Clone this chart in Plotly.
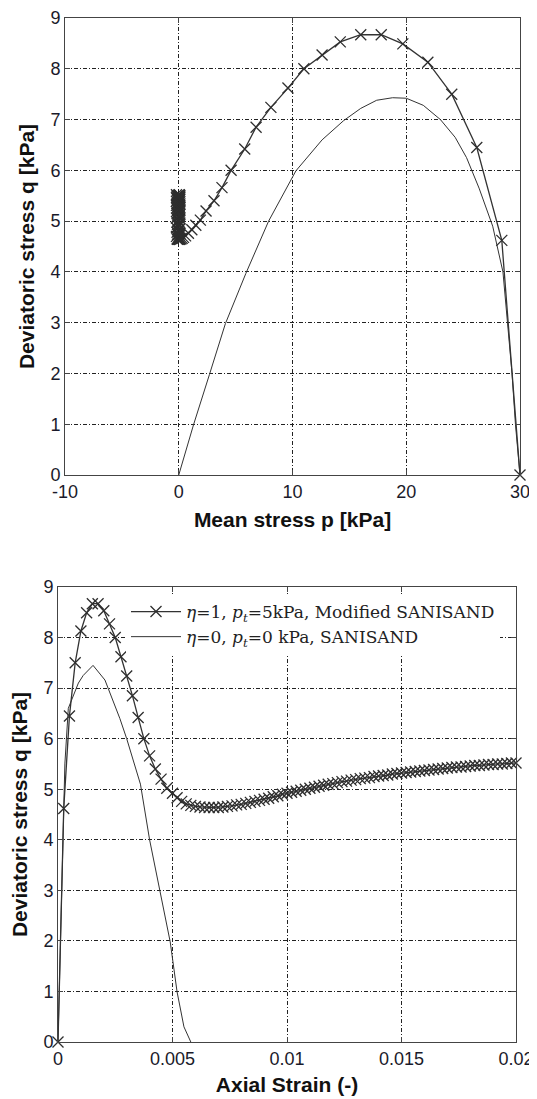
import plotly.graph_objects as go

# Modified SANISAND (eta=1, pt=5 kPa): same test drawn in p-q and strain-q
mod_strain = [0.0, 0.00025, 0.0005, 0.00075, 0.001, 0.00125, 0.0015, 0.00175, 0.002,
              0.00225, 0.0025, 0.00275, 0.003, 0.00325, 0.0035, 0.00375, 0.004, 0.00425,
              0.0045, 0.00475, 0.005,
              0.0052, 0.0054, 0.0056, 0.0058, 0.006, 0.0062, 0.0064, 0.0066, 0.0068, 0.007,
              0.0072, 0.0074, 0.0076, 0.0078, 0.008, 0.0082, 0.0084, 0.0086, 0.0088, 0.009,
              0.0092, 0.0094, 0.0096, 0.0098, 0.01, 0.0102, 0.0104, 0.0106, 0.0108, 0.011,
              0.0112, 0.0114, 0.0116, 0.0118, 0.012, 0.0122, 0.0124, 0.0126, 0.0128, 0.013,
              0.0132, 0.0134, 0.0136, 0.0138, 0.014, 0.0142, 0.0144, 0.0146, 0.0148, 0.015,
              0.0152, 0.0154, 0.0156, 0.0158, 0.016, 0.0162, 0.0164, 0.0166, 0.0168, 0.017,
              0.0172, 0.0174, 0.0176, 0.0178, 0.018, 0.0182, 0.0184, 0.0186, 0.0188, 0.019,
              0.0192, 0.0194, 0.0196, 0.0198, 0.02]
mod_q = [0.0, 4.62, 6.45, 7.5, 8.13, 8.49, 8.67, 8.67, 8.53,
         8.27, 8.0, 7.62, 7.24, 6.85, 6.42, 6.0, 5.66, 5.4,
         5.2, 5.02, 4.92,
         4.83, 4.76, 4.71, 4.68, 4.66, 4.65, 4.64, 4.64, 4.64, 4.64,
         4.65, 4.66, 4.67, 4.69, 4.7, 4.72, 4.74, 4.76, 4.78, 4.8,
         4.82, 4.85, 4.87, 4.9, 4.92, 4.94, 4.96, 4.98, 5.0, 5.02,
         5.04, 5.06, 5.08, 5.1, 5.11, 5.13, 5.15, 5.16, 5.18, 5.19,
         5.21, 5.22, 5.23, 5.25, 5.26, 5.27, 5.28, 5.3, 5.31, 5.32,
         5.33, 5.34, 5.35, 5.36, 5.37, 5.38, 5.39, 5.4, 5.41, 5.42,
         5.43, 5.44, 5.44, 5.45, 5.46, 5.47, 5.47, 5.48, 5.49, 5.49,
         5.5, 5.5, 5.51, 5.52, 5.52]
mod_p = [30.0, 28.4, 26.2, 24.0, 21.9, 19.7, 17.8, 16.0, 14.2,
         12.6, 11.0, 9.6, 8.1, 6.8, 5.8, 4.6, 3.8, 3.1,
         2.4, 1.9, 1.5,
         1.15, 0.85, 0.6, 0.42, 0.3, 0.2, 0.1, 0.0, -0.1, 0.05,
         -0.15, 0.1, -0.05, 0.0, -0.2, 0.05, -0.1, 0.1, -0.15, 0.0,
         -0.05, 0.1, -0.2, 0.0, 0.05, -0.1, 0.1, -0.15, 0.0, -0.05,
         0.1, -0.2, 0.05, -0.1, 0.0, 0.1, -0.15, -0.05, 0.05, -0.2,
         0.1, 0.0, -0.1, 0.05, -0.15, 0.1, -0.05, 0.0, -0.2, 0.05,
         -0.1, 0.1, -0.15, 0.0, -0.05, 0.1, -0.2, 0.05, -0.1, 0.0,
         0.1, -0.15, -0.05, 0.05, -0.2, 0.1, 0.0, -0.1, 0.05, -0.15,
         0.1, -0.05, 0.0, -0.2, 0.05]

# SANISAND (eta=0, pt=0)
san_p = [30.0, 29.6, 29.3, 28.9, 28.5, 27.6, 26.4, 25.3, 24.3, 23.0, 21.5, 20.0,
         18.8, 17.4, 16.0, 14.5, 12.6, 10.3, 7.9, 5.9, 4.1, 2.7, 1.3, 0.0]
san_q_pq = [0.0, 1.0, 2.0, 3.0, 4.0, 4.9, 5.65, 6.25, 6.65, 7.0, 7.28, 7.42,
            7.43, 7.38, 7.22, 6.98, 6.6, 5.99, 5.0, 3.97, 2.98, 1.98, 0.99, 0.0]
san_strain = [0.0, 0.0001, 0.0002, 0.0003, 0.00045, 0.0007, 0.00089, 0.0011, 0.00153,
              0.00205, 0.00227, 0.0027, 0.003, 0.0036, 0.004, 0.00445, 0.0049, 0.0052,
              0.0055, 0.0058]
san_q = [0.0, 2.0, 4.0, 5.5, 6.6, 6.9, 7.1, 7.25, 7.45,
         7.16, 6.9, 6.4, 6.0, 5.1, 4.0, 3.0, 1.98, 0.99,
         0.3, 0.0]

p_ticks = [-10, 0, 10, 20, 30]
p_labels = ["-10", "0", "10", "20", "30"]
q_ticks = [0, 1, 2, 3, 4, 5, 6, 7, 8, 9]
strain_ticks = [0, 0.005, 0.01, 0.015, 0.02]
strain_labels = ["0", "0.005", "0.01", "0.015", "0.02"]

# page body has an 8px margin, so the figure is 8px smaller and all pixel
# positions below are taken relative to (8, 8)
OFF = 8
W, H = 537 - OFF, 1099 - OFF


def xd(a, b):
    return [(a - OFF) / W, (b - OFF) / W]


def yd(top, bottom):
    return [1 - (bottom - OFF) / H, 1 - (top - OFF) / H]


LINE = "#333"
MARK = dict(symbol="x-thin", size=11, line=dict(width=1.3, color="#2e2e2e"))

fig = go.Figure()
fig.add_trace(go.Scatter(x=mod_p, y=mod_q, mode="lines+markers", xaxis="x", yaxis="y",
                         line=dict(color=LINE, width=1.3), marker=MARK, cliponaxis=False,
                         showlegend=False))
fig.add_trace(go.Scatter(x=san_p, y=san_q_pq, mode="lines", xaxis="x", yaxis="y",
                         line=dict(color=LINE, width=1), showlegend=False))
fig.add_trace(go.Scatter(x=mod_strain, y=mod_q, mode="lines+markers", xaxis="x2", yaxis="y2",
                         line=dict(color=LINE, width=1.3), marker=MARK, cliponaxis=False,
                         name="<i>η</i>=1, <i>p<sub>t</sub></i>=5kPa, Modified SANISAND"))
fig.add_trace(go.Scatter(x=san_strain, y=san_q, mode="lines", xaxis="x2", yaxis="y2",
                         line=dict(color=LINE, width=1),
                         name="<i>η</i>=0, <i>p<sub>t</sub></i>=0 kPa, SANISAND"))

tick_font = dict(family="Liberation Sans, Arial", size=18, color="#1a1a2a")
title_font = dict(family="Liberation Sans, Arial", size=21, color="#111")
axis_common = dict(showline=True, linecolor="#444", linewidth=1, mirror="ticks",
                   ticks="inside", ticklen=5, tickcolor="#444", automargin=False,
                   showgrid=True, gridcolor="#222", gridwidth=1, griddash="4px,2px,1px,2px",
                   zeroline=False, tickfont=tick_font)

fig.update_layout(
    width=W, height=H, paper_bgcolor="white", plot_bgcolor="white",
    margin=dict(l=0, r=0, t=0, b=0),
    xaxis=dict(axis_common, domain=xd(65, 520), range=[-10, 30], anchor="y",
               tickvals=p_ticks, ticktext=p_labels,
               title=dict(text="<b>Mean stress p [kPa]</b>", font=title_font, standoff=11)),
    yaxis=dict(axis_common, domain=yd(18, 475), range=[0, 9], anchor="x",
               tickvals=q_ticks,
               title=dict(text="<b>Deviatoric stress q [kPa]</b>", font=title_font, standoff=10)),
    xaxis2=dict(axis_common, domain=xd(58, 516), range=[0, 0.02], anchor="y2",
                tickvals=strain_ticks, ticktext=strain_labels,
                title=dict(text="<b>Axial Strain (-)</b>", font=title_font, standoff=9)),
    yaxis2=dict(axis_common, domain=yd(587, 1042), range=[0, 9], anchor="x2",
                tickvals=q_ticks,
                title=dict(text="<b>Deviatoric stress q [kPa]</b>", font=title_font, standoff=10)),
    legend=dict(x=(126 - OFF) / W, y=1 - (594 - OFF) / H, xanchor="left", yanchor="top",
                bgcolor="white", borderwidth=0,
                font=dict(family="DejaVu Serif, Liberation Serif", size=17, color="#222"),
                tracegroupgap=0, itemwidth=50),
)

fig.write_html("out.html")
